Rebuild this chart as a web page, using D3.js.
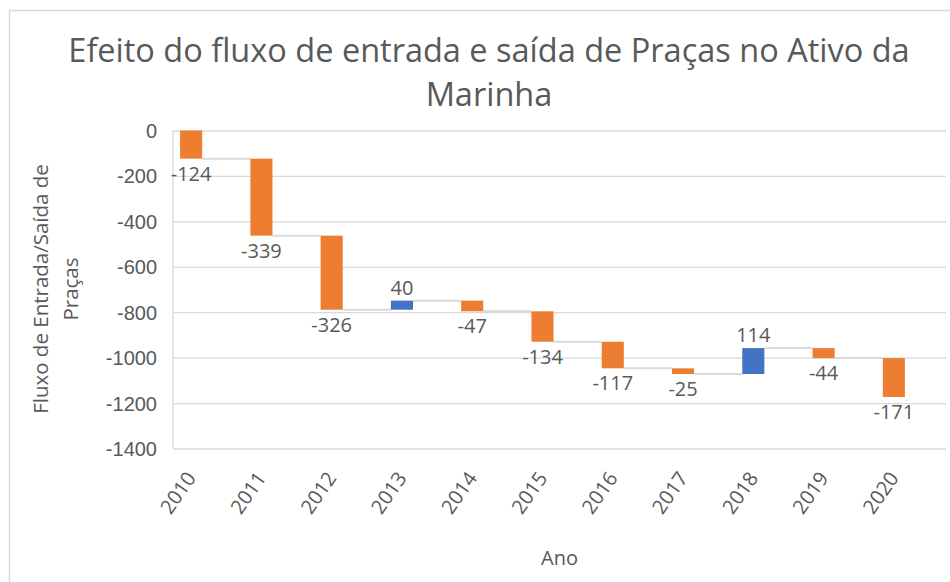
<!DOCTYPE html>
<html>
<head>
<meta charset="utf-8">
<script src="https://cdn.jsdelivr.net/npm/d3@7"></script>
<style>
  html, body { margin: 0; padding: 0; background: #fff; }
  svg { display: block; font-family: 'Open Sans', sans-serif; }
  .grid line { stroke: #d9d9d9; stroke-width: 1.3; }
  .grid path { display: none; }
  .grid text { fill: #595959; font-size: 20px; }
  .xlab text { fill: #595959; font-size: 20px; }
  .label { fill: #595959; font-size: 20px; }
</style>
</head>
<body>
<svg id="chart" width="950" height="582"></svg>
<script>
// data
const years = ['2010', '2011', '2012', '2013', '2014', '2015', '2016', '2017', '2018', '2019', '2020'];
const changes = [-124, -339, -326, 40, -47, -134, -117, -25, 114, -44, -171];
const yTicks = [0, -200, -400, -600, -800, -1000, -1200, -1400];
const titleLines = ['Efeito do fluxo de entrada e saída de Praças no Ativo da', 'Marinha'];
const yTitleLines = ['Fluxo de Entrada/Saída de', 'Praças'];
const xTitle = 'Ano';

const orange = '#ed7d31';
const blue = '#4472c4';

const svg = d3.select('#chart');

// chart border (runs off the right/bottom of the shot)
svg.append('rect')
  .attr('x', 9.5).attr('y', 10.5)
  .attr('width', 1000).attr('height', 1000)
  .attr('fill', 'none').attr('stroke', '#d9d9d9').attr('stroke-width', 1.5);

const plot = { left: 173, right: 946, top: 130.5, bottom: 448.5 };

const y = d3.scaleLinear().domain([-1400, 0]).range([plot.bottom, plot.top]);
const x = d3.scaleBand().domain(years).range([156, 929]).paddingInner(0.686).paddingOuter(0.343);

// running totals for the waterfall
let running = 0;
const steps = changes.map((v, i) => {
  const start = running;
  running += v;
  return { year: years[i], value: v, start, end: running };
});

// gridlines + y labels
svg.append('g')
  .attr('class', 'grid')
  .attr('transform', `translate(${plot.left},0)`)
  .call(d3.axisLeft(y).tickValues(yTicks).tickSize(-(plot.right - plot.left)).tickPadding(16).tickFormat(d => String(d)))
  .call(g => g.selectAll('text').attr('dy', '0.35em'));

svg.append('line')
  .attr('x1', plot.left).attr('x2', plot.left)
  .attr('y1', plot.top).attr('y2', plot.bottom)
  .attr('stroke', '#d9d9d9').attr('stroke-width', 1.3);

// connectors between bars
svg.append('g')
  .selectAll('line')
  .data(steps.slice(0, -1))
  .join('line')
  .attr('x1', d => x(d.year) + x.bandwidth())
  .attr('x2', (d, i) => x(years[i + 1]))
  .attr('y1', d => y(d.end))
  .attr('y2', d => y(d.end))
  .attr('stroke', '#d9d9d9')
  .attr('stroke-width', 2);

// bars
svg.append('g')
  .selectAll('rect')
  .data(steps)
  .join('rect')
  .attr('x', d => x(d.year))
  .attr('width', x.bandwidth())
  .attr('y', d => y(Math.max(d.start, d.end)))
  .attr('height', d => Math.abs(y(d.start) - y(d.end)))
  .attr('fill', d => d.value < 0 ? orange : blue);

// data labels
svg.append('g')
  .selectAll('text')
  .data(steps)
  .join('text')
  .attr('class', 'label')
  .attr('text-anchor', 'middle')
  .attr('x', d => x(d.year) + x.bandwidth() / 2)
  .attr('y', d => d.value < 0 ? y(Math.min(d.start, d.end)) + 22 : y(Math.max(d.start, d.end)) - 6)
  .text(d => String(d.value));

// rotated category labels
svg.append('g')
  .attr('class', 'xlab')
  .selectAll('text')
  .data(years)
  .join('text')
  .attr('text-anchor', 'end')
  .attr('dy', '0.35em')
  .attr('transform', d => `translate(${x(d) + x.bandwidth() / 2},474) rotate(-55)`)
  .text(d => d);

// titles
svg.append('text')
  .attr('text-anchor', 'middle')
  .attr('fill', '#595959')
  .attr('font-size', 32.5)
  .selectAll('tspan')
  .data(titleLines)
  .join('tspan')
  .attr('x', 489)
  .attr('y', (d, i) => 62 + i * 44)
  .text(d => d);

svg.append('text')
  .attr('text-anchor', 'middle')
  .attr('fill', '#595959')
  .attr('font-size', 20.5)
  .attr('transform', 'translate(48,289) rotate(-90)')
  .selectAll('tspan')
  .data(yTitleLines)
  .join('tspan')
  .attr('x', 0)
  .attr('dy', (d, i) => i === 0 ? 0 : 30)
  .text(d => d);

svg.append('text')
  .attr('text-anchor', 'middle')
  .attr('fill', '#595959')
  .attr('font-size', 20)
  .attr('x', (plot.left + plot.right) / 2)
  .attr('y', 565)
  .text(xTitle);
</script>
</body>
</html>
